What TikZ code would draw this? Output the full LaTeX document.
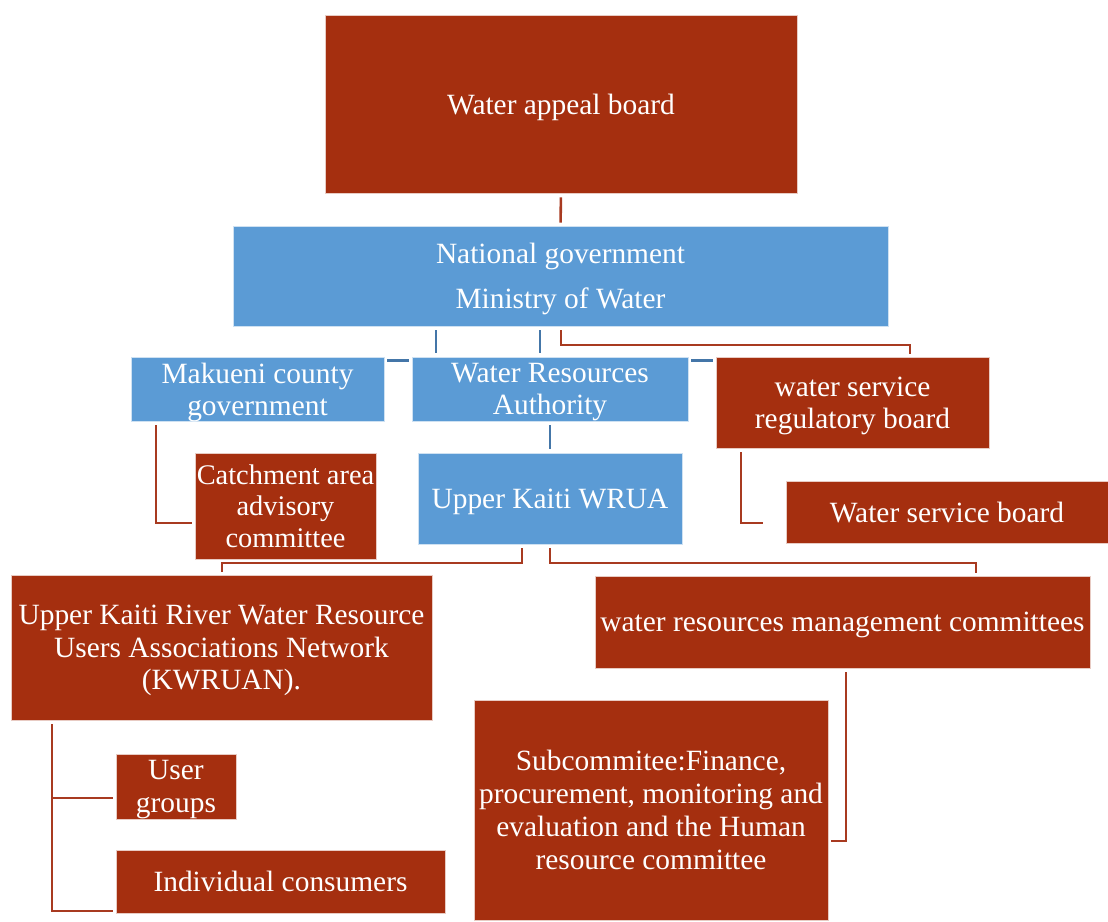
\documentclass[tikz,border=0pt]{standalone}
\usepackage{fontspec}
\setmainfont{Liberation Serif}
\definecolor{boxred}{RGB}{165,47,15}
\definecolor{boxblue}{RGB}{91,155,213}
\definecolor{linered}{RGB}{168,58,32}
\definecolor{lineblue}{RGB}{68,118,168}
\begin{document}
\begin{tikzpicture}[x=0.5pt,y=-0.5pt,
  base/.style={inner sep=0pt, text=white, align=center, text depth=0pt,
    font=\fontsize{14.7}{16.2}\selectfont, draw=white!75!boxred, line width=0.3pt},
  rbox/.style={base, fill=boxred},
  bbox/.style={base, fill=boxblue, draw=white!70!boxblue},
  rline/.style={draw=linered, line width=1.3pt, shorten <=2pt, shorten >=1.5pt},
  bline/.style={draw=lineblue, line width=1.3pt, shorten <=2pt, shorten >=2pt},
  hbline/.style={draw=lineblue, line width=1.3pt, shorten <=1.5pt, shorten >=1.5pt},
]
\useasboundingbox (0,0) rectangle (1108,921);

% boxes
\node[rbox, minimum width=236pt, minimum height=89pt] (appeal) at (561,104) {Water appeal board};
\node[bbox, minimum width=327.5pt, minimum height=50pt] (natgov) at (560.5,276) {National government\\[6.3pt]Ministry of Water};
\node[bbox, minimum width=126.5pt, minimum height=32pt] (makueni) at (257.5,389) {Makueni county\\government};
\node[bbox, minimum width=138pt, minimum height=32pt] (wra) at (550,389) {Water Resources\\Authority};
\node[rbox, minimum width=136.5pt, minimum height=45.5pt] (wsrb) at (852.5,402.5) {water service\\regulatory board};
\node[rbox, minimum width=90.5pt, minimum height=53pt, font=\fontsize{14.2}{15.9}\selectfont] (catch) at (285.5,506) {Catchment area\\advisory\\committee};
\node[bbox, minimum width=132pt, minimum height=45.5pt] (wrua) at (550,498.5) {Upper Kaiti WRUA};
\node[rbox, minimum width=161pt, minimum height=31pt] (wsb) at (947,512) {Water service board};
\node[rbox, minimum width=210.5pt, minimum height=72.5pt] (kwruan) at (221.5,647.5) {Upper Kaiti River Water Resource\\Users Associations Network\\(KWRUAN).};
\node[rbox, minimum width=247.5pt, minimum height=46pt] (wrmc) at (842.5,622) {water resources management committees};
\node[rbox, minimum width=177pt, minimum height=110pt, font=\fontsize{14.7}{16.5}\selectfont] (sub) at (651,810) {Subcommitee:Finance,\\procurement, monitoring and\\evaluation and the Human\\resource committee};
\node[rbox, minimum width=60pt, minimum height=32.5pt] (ug) at (176,786.5) {User\\groups};
\node[rbox, minimum width=164.5pt, minimum height=31.5pt] (ic) at (280.5,881.5) {Individual consumers};

\coordinate (wsbend) at (763,523);

% connectors
\draw[rline] (appeal.south) -- (natgov.north);
\draw[bline] (natgov.south -| 436,0) -- (wra.north -| 436,0);
\draw[bline] (natgov.south -| 540,0) -- (wra.north -| 540,0);
\draw[hbline] ([yshift=-2pt]makueni.north east) -- ([yshift=-2pt]wra.north west);
\draw[hbline] ([yshift=-2pt]wra.north east) -- ([yshift=-2pt]wsrb.north west);
\draw[rline] (natgov.south -| 561,0) -- (561,345) -- (910,345) -- (wsrb.north -| 910,0);
\draw[rline] (makueni.south -| 156,0) |- (catch.west |- 0,523);
\draw[bline] (wra.south) -- (wrua.north);
\draw[rline, shorten >=0pt] (wsrb.south -| 741,0) |- (wsbend);
\draw[rline] (wrua.south -| 522,0) -- (522,563) -| (kwruan.north -| 222,0);
\draw[rline] (wrua.south -| 550,0) -- (550,563) -| (wrmc.north -| 976,0);
\draw[rline] (wrmc.south -| 846,0) |- (sub.east |- 0,841);
\draw[rline] (kwruan.south -| 52,0) |- (ug.west |- 0,798);
\draw[rline] (kwruan.south -| 52,0) |- (ic.west |- 0,911);
\end{tikzpicture}
\end{document}
